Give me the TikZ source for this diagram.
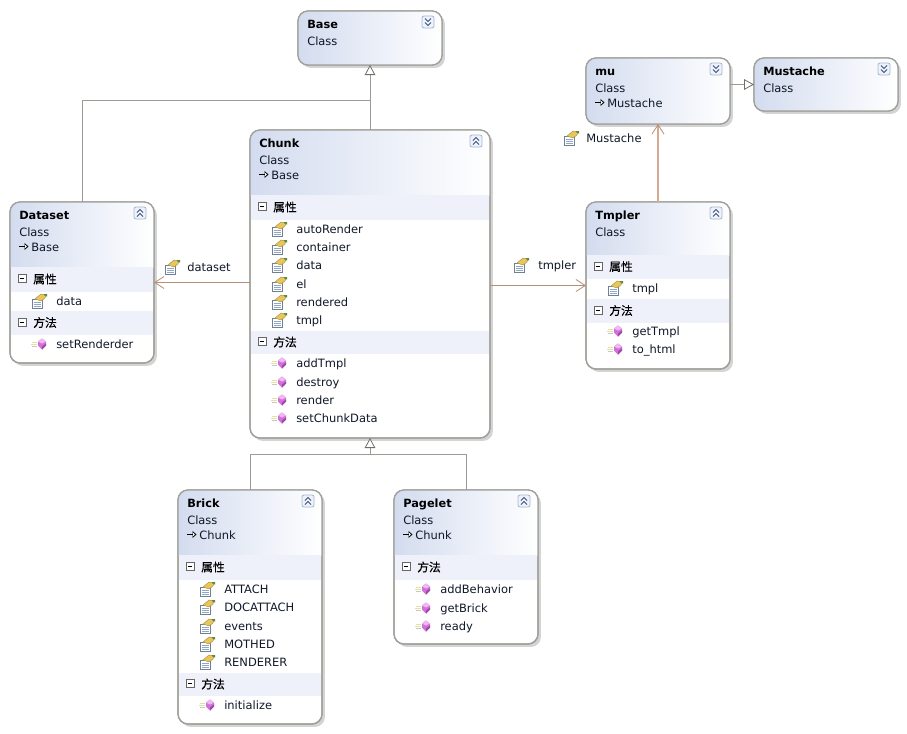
\documentclass[tikz,border=0pt]{standalone}
\usepackage{fontspec}
\setmainfont{DejaVu Sans}
\newfontfamily\cjkf[FakeBold=0.25]{Noto Sans CJK SC}
\usetikzlibrary{arrows.meta,shadows,calc}
\definecolor{hdrL}{HTML}{D3DCEF}
\definecolor{sectC}{HTML}{EEF1FA}
\definecolor{edgeC}{HTML}{A0A09A}
\definecolor{genC}{HTML}{9C9C94}
\definecolor{tipC}{HTML}{70706A}
\definecolor{assocC}{HTML}{B88E76}
\definecolor{assocL}{HTML}{D6AA90}
\definecolor{txtC}{HTML}{101828}
\definecolor{docE}{HTML}{6E7F96}
\definecolor{docL}{HTML}{8FA6C4}
\definecolor{handY}{HTML}{E8C65A}
\definecolor{handE}{HTML}{A08A40}
\definecolor{handG}{HTML}{5E8C3A}
\definecolor{cubeM}{HTML}{D070D8}
\definecolor{cubeT}{HTML}{F0B8F0}
\definecolor{cubeD}{HTML}{9A4AA8}
\definecolor{lineY}{HTML}{E6E0A0}
\definecolor{lineG}{HTML}{C8C8C0}
\definecolor{btnE}{HTML}{A4B6D2}
\definecolor{btnF}{HTML}{EEF3FB}
\definecolor{btnC}{HTML}{3A5080}
\newcounter{tn}
\tikzset{
  classbox/.style={draw=edgeC,line width=.95pt,rounded corners=7.5pt,fill=white,inner sep=0pt,outer sep=0pt,
    drop shadow={shadow xshift=2.2pt,shadow yshift=-2.2pt,opacity=.28,fill=black!60}},
  edgeonly/.style={draw=edgeC,line width=.95pt,rounded corners=7.5pt},
  titletxt/.style={anchor=base west,inner sep=0pt,font=\fontsize{8.5}{10}\selectfont\bfseries,text=black},
  itemtxt/.style={anchor=base west,inner sep=0pt,font=\fontsize{8.6}{10}\selectfont,text=txtC},
  secttxt/.style={anchor=base west,inner sep=0pt,font=\fontsize{8.8}{10}\cjkf\selectfont,text=black},
  genline/.style={draw=genC,line width=.75pt},
  gentip/.style={-{Triangle[open,fill=white,length=7.5pt,width=8pt,color=tipC,line width=.6pt]}},
  assoc/.style={draw=assocC,line width=.75pt,-{Straight Barb[length=7pt,width=9pt,color=assocC,line width=.6pt]}},
  assocup/.style={draw=assocL,line width=1pt,-{Straight Barb[length=7pt,width=9pt,color=assocC,line width=.6pt]}},
}
\newcommand{\txt}[4]{\stepcounter{tn}\node[#1] (t\arabic{tn}) at ({#2},{#3}) {#4};}
% field icon
\newcommand{\fieldicon}[2]{%
  \begin{scope}[shift={(#1,#2)}]
    \fill[white,draw=docE,line width=.45pt] (-7,-2) rectangle (3,7);
    \draw[docL,line width=.5pt] (-5.5,1)--(1.5,1) (-5.5,3)--(1.5,3) (-5.5,5)--(1.5,5);
    \fill[handY,draw=handE,line width=.3pt] (-4,-2)--(2,-7)--(7,-6)--(6,-3)--(2,0)--cycle;
    \fill[handG] (4.5,-7)--(8,-7)--(8,-4.5)--(6,-5)--cycle;
  \end{scope}}
% method icon
\newcommand{\methodicon}[2]{%
  \begin{scope}[shift={(#1,#2)}]
    \draw[lineY,line width=.55pt] (-7,-2)--(-2,-2) (-8,0)--(-2,0);
    \draw[lineG,line width=.55pt] (-7,2)--(-2,2);
    \fill[cubeM] (3,-5.5)--(7,-2.5)--(7,1.5)--(3,5.5)--(-1,1.5)--(-1,-2.5)--cycle;
    \fill[cubeT] (3,-5.5)--(7,-2.5)--(3,-.5)--(-1,-2.5)--cycle;
    \fill[cubeD] (3,5.5)--(7,1.5)--(7,-.5)--(3,2.5)--cycle;
  \end{scope}}
% collapse button: #3=1 up, #3=0 down
\newcommand{\chevbtn}[3]{%
  \begin{scope}[shift={(#1,#2)}]
    \draw[draw=btnE,fill=btnF,rounded corners=1.5pt,line width=.6pt] (-6,-6) rectangle (6,6);
    \ifnum#3=1
      \draw[btnC,line width=.75pt] (-3,-.5)--(0,-3.5)--(3,-.5) (-3,3.5)--(0,.5)--(3,3.5);
    \else
      \draw[btnC,line width=.75pt] (-3,-3.5)--(0,-.5)--(3,-3.5) (-3,.5)--(0,3.5)--(3,.5);
    \fi
  \end{scope}}
% class: name x0 y0 x1 y1 headerbottom title button
\newcommand{\classb}[8]{%
  \node[classbox,minimum width={(#4-#2)*.75pt},minimum height={(#5-#3)*.75pt}] (#1) at ({(#2+#4)/2},{(#3+#5)/2}) {};
  \begin{scope}
    \clip[rounded corners=7.5pt] (#2,#3) rectangle (#4,#5);
    \shade[left color=hdrL,right color=white] (#2,#3) rectangle (#4,#6);
  \end{scope}
  \chevbtn{#4-14}{#3+11}{#8}
  \txt{titletxt}{#2+9}{#3+17}{#7}
  \txt{itemtxt}{#2+9}{#3+34}{Class}
}
% frame redraw
\newcommand{\frameb}[4]{\draw[edgeonly] (#1,#2) rectangle (#3,#4);}
% inherited-from line
\newcommand{\basel}[3]{%
  \draw[black,line width=.55pt] (#1+9,#2+44.5)--(#1+15,#2+44.5);
  \fill[black] (#1+14.5,#2+41)--(#1+18.5,#2+44.5)--(#1+14.5,#2+48)--cycle;
  \fill[white] (#1+15,#2+42.6)--(#1+16.8,#2+44.5)--(#1+15,#2+46.4)--cycle;
  \txt{itemtxt}{#1+21}{#2+49}{#3}
}
% section: x0 x1 y0 y1 label
\newcommand{\sectb}[5]{%
  \fill[sectC] (#1+.8,#3) rectangle (#2-.8,#4);
  \draw[fill=white,draw=black!60,line width=.45pt] (#1+8,{(#3+#4)/2-5}) rectangle (#1+16,{(#3+#4)/2+3});
  \draw[black,line width=.5pt] (#1+9.8,{(#3+#4)/2-1}) -- (#1+14.2,{(#3+#4)/2-1});
  \txt{secttxt}{#1+23}{(#3+#4)/2+4}{#5}
}
\newcommand{\fld}[3]{\fieldicon{#1+29}{#2}\txt{itemtxt}{#1+46}{#2+4}{#3}}
\newcommand{\mth}[3]{\methodicon{#1+29}{#2}\txt{itemtxt}{#1+46}{#2+4}{#3}}
\begin{document}
\begin{tikzpicture}[x=.75pt,y=-.75pt]
\useasboundingbox (0,0) rectangle (907,733);
\fill[white] (0,0) rectangle (907,733);

% Base
\classb{base}{298}{11}{442}{65}{65}{Base}{0}
\frameb{298}{11}{442}{65}
% mu
\classb{mu}{586}{58}{730}{124}{124}{mu}{0}
\basel{586}{58}{Mustache}
\frameb{586}{58}{730}{124}
% Mustache
\classb{mustache}{754}{58}{898}{111}{111}{Mustache}{0}
\frameb{754}{58}{898}{111}

% Chunk
\classb{chunk}{250}{130}{490}{438}{195}{Chunk}{1}
\basel{250}{130}{Base}
\sectb{250}{490}{195}{220}{属性}
\fld{250}{229}{autoRender}
\fld{250}{247}{container}
\fld{250}{265}{data}
\fld{250}{284}{el}
\fld{250}{302}{rendered}
\fld{250}{320}{tmpl}
\sectb{250}{490}{331}{354}{方法}
\mth{250}{363}{addTmpl}
\mth{250}{382}{destroy}
\mth{250}{400}{render}
\mth{250}{418}{setChunkData}
\frameb{250}{130}{490}{438}

% Dataset
\classb{dataset}{10}{202}{154}{363}{267}{Dataset}{1}
\basel{10}{202}{Base}
\sectb{10}{154}{267}{292}{属性}
\fld{10}{301}{data}
\sectb{10}{154}{311}{335}{方法}
\mth{10}{344}{setRenderder}
\frameb{10}{202}{154}{363}

% Tmpler
\classb{tmpler}{586}{202}{730}{369}{255}{Tmpler}{1}
\sectb{586}{730}{255}{279}{属性}
\fld{586}{288}{tmpl}
\sectb{586}{730}{299}{323}{方法}
\mth{586}{331}{getTmpl}
\mth{586}{349}{to\_html}
\frameb{586}{202}{730}{369}

% Brick
\classb{brick}{178}{490}{322}{724}{555}{Brick}{1}
\basel{178}{490}{Chunk}
\sectb{178}{322}{555}{580}{属性}
\fld{178}{589}{ATTACH}
\fld{178}{607}{DOCATTACH}
\fld{178}{626}{events}
\fld{178}{644}{MOTHED}
\fld{178}{662}{RENDERER}
\sectb{178}{322}{673}{696}{方法}
\mth{178}{705}{initialize}
\frameb{178}{490}{322}{724}

% Pagelet
\classb{pagelet}{394}{490}{538}{644}{555}{Pagelet}{1}
\basel{394}{490}{Chunk}
\sectb{394}{538}{555}{580}{方法}
\mth{394}{589}{addBehavior}
\mth{394}{608}{getBrick}
\mth{394}{626}{ready}
\frameb{394}{490}{538}{644}

% Association labels
\fieldicon{172}{267}\txt{itemtxt}{187}{271}{dataset}
\fieldicon{521}{265}\txt{itemtxt}{538}{269}{tmpler}
\fieldicon{571}{138}\txt{itemtxt}{586}{142}{Mustache}

% junctions
\coordinate (jtop) at (370,100);
\coordinate (jbot) at (370,454);
\coordinate (dsy) at (200,282.5);
\coordinate (tmy) at (540,285.5);

% Connectors
\draw[genline,gentip] (chunk.north) -- (base.south);
\draw[genline] (dataset.north) |- (jtop);
\draw[genline,gentip] (jbot) -- (chunk.south);
\draw[genline] (brick.north) |- (jbot);
\draw[genline] (pagelet.north) |- (jbot);
\draw[genline,gentip] (mu.east |- mustache.west) -- (mustache.west);
\draw[assoc] (chunk.west |- dsy) -- (dataset.east |- dsy);
\draw[assoc] (chunk.east |- tmy) -- (tmpler.west |- tmy);
\draw[assocup] (tmpler.north) -- (mu.south);
\end{tikzpicture}
\end{document}
